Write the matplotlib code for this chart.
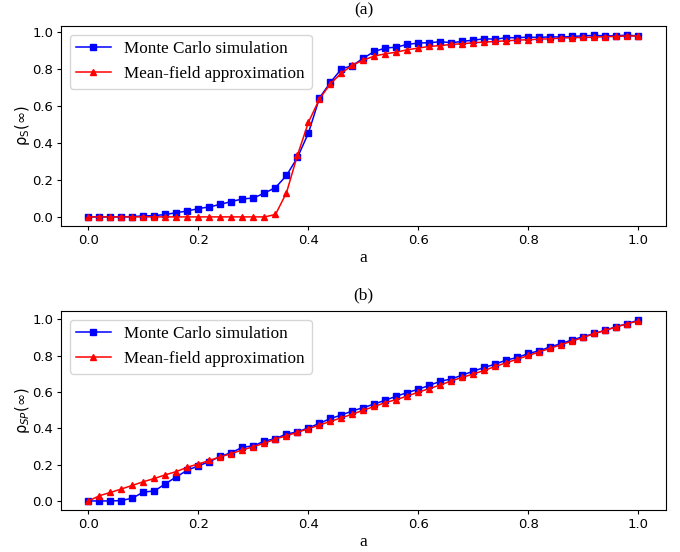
import numpy as np
import matplotlib
matplotlib.use('Agg')
import matplotlib.pyplot as plt

a = np.round(np.arange(0, 1.0001, 0.02), 2)

# (a) rho_S(inf)
mc_s = [0.0, 0.0, 0.0, 0.0, 0.002, 0.005, 0.007, 0.013, 0.023, 0.032,
        0.045, 0.054, 0.068, 0.083, 0.097, 0.102, 0.129, 0.158, 0.224, 0.321,
        0.454, 0.643, 0.727, 0.800, 0.817, 0.858, 0.894, 0.912, 0.917, 0.932,
        0.939, 0.941, 0.946, 0.941, 0.948, 0.955, 0.962, 0.960, 0.968, 0.968,
        0.971, 0.969, 0.973, 0.971, 0.975, 0.978, 0.980, 0.978, 0.978, 0.982,
        0.977]
mf_s = [0.0, 0.0, 0.0, 0.0, 0.0, 0.0, 0.0, 0.0, 0.0, 0.0,
        0.0, 0.0, 0.0, 0.0, 0.0, 0.0, 0.0, 0.013, 0.131, 0.334,
        0.512, 0.637, 0.720, 0.777, 0.820, 0.847, 0.869, 0.881, 0.890, 0.903,
        0.912, 0.921, 0.925, 0.932, 0.935, 0.941, 0.944, 0.948, 0.951, 0.955,
        0.957, 0.960, 0.962, 0.966, 0.968, 0.969, 0.971, 0.973, 0.975, 0.977,
        0.977]

# (b) rho_SP(inf)
mc_sp = [0.0, 0.0, 0.0, 0.002, 0.016, 0.049, 0.055, 0.095, 0.133, 0.170,
         0.193, 0.217, 0.246, 0.266, 0.296, 0.303, 0.330, 0.343, 0.369, 0.380,
         0.403, 0.427, 0.454, 0.473, 0.496, 0.514, 0.534, 0.555, 0.577, 0.597,
         0.615, 0.637, 0.659, 0.672, 0.693, 0.715, 0.735, 0.754, 0.776, 0.790,
         0.812, 0.827, 0.849, 0.867, 0.887, 0.905, 0.922, 0.940, 0.960, 0.976,
         0.996]
mf_sp = [0.0, 0.029, 0.047, 0.066, 0.086, 0.106, 0.124, 0.144, 0.162, 0.186,
         0.204, 0.223, 0.243, 0.261, 0.281, 0.299, 0.318, 0.341, 0.359, 0.378,
         0.398, 0.418, 0.438, 0.458, 0.478, 0.500, 0.520, 0.542, 0.558, 0.578,
         0.599, 0.619, 0.639, 0.661, 0.681, 0.699, 0.719, 0.741, 0.761, 0.781,
         0.801, 0.821, 0.841, 0.861, 0.881, 0.900, 0.922, 0.940, 0.958, 0.976,
         0.991]

serif = {'family': 'Liberation Serif', 'size': 12.5}

fig = plt.figure(figsize=(6.8, 5.52), dpi=100)
ax1 = fig.add_axes([0.0897, 0.5906, 0.8897, 0.3623])
ax2 = fig.add_axes([0.0897, 0.0761, 0.8897, 0.3605])

panels = [(ax1, mc_s, mf_s, r'$\mathrm{\rho}_\mathrm{S}(\infty)$', '(a)'),
          (ax2, mc_sp, mf_sp, r'$\mathrm{\rho}_{SP}(\infty)$', '(b)')]

for ax, mc, mf, ylab, title in panels:
    ax.plot(a, mc, 'b-s', markersize=5, linewidth=1.1, label='Monte Carlo simulation')
    ax.plot(a, mf, 'r-^', markersize=5, linewidth=1.1, label='Mean-field approximation')
    ax.tick_params(length=2.8, pad=2.8, labelsize=9.5)
    ax.set_xlabel('a', fontdict=serif, labelpad=2)
    ax.set_ylabel(ylab, fontsize=10.5, labelpad=0.5)
    ax.set_title(title, fontdict=serif, pad=8)
    ax.legend(loc='upper left', handletextpad=0.8,
              prop={'family': 'Liberation Serif', 'size': 12.3})

fig.savefig('out.png', dpi=100)
